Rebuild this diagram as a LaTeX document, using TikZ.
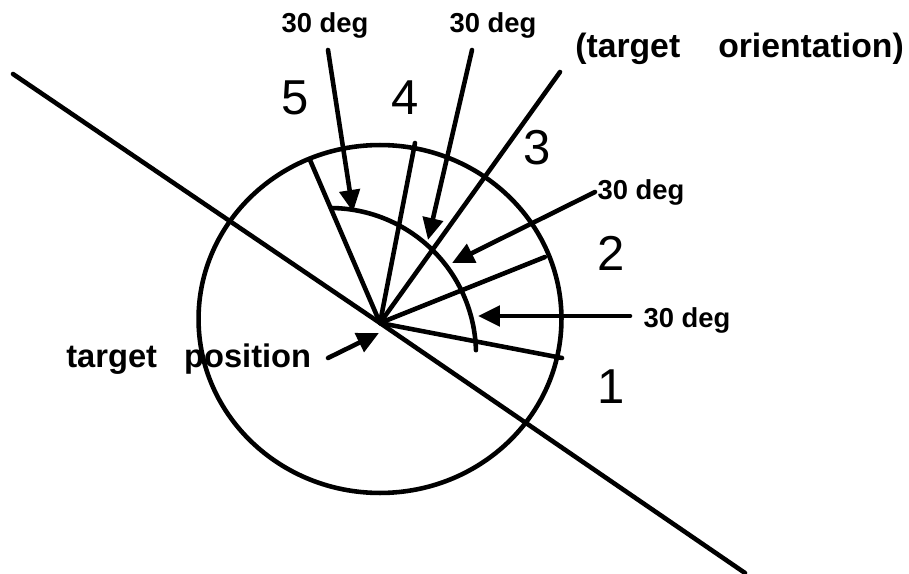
\documentclass[tikz,border=0pt]{standalone}
\usepackage{fontspec}
\setmainfont{Liberation Sans}
\usetikzlibrary{arrows.meta}
\begin{document}
\begin{tikzpicture}[x=0.02cm,y=-0.02cm, line width=2.6pt, line cap=round,
  deglabel/.style={font=\bfseries\fontsize{15.6}{18}\selectfont, inner sep=0pt, anchor=base},
  biglabel/.style={font=\bfseries\fontsize{19.2}{22}\selectfont, inner sep=0pt, anchor=base west},
  numlabel/.style={font=\fontsize{27.9}{32}\selectfont, inner sep=0pt, anchor=base},
  pointer/.style={-{Triangle[length=12.5pt,width=11.5pt]}}]
\useasboundingbox (0,0) rectangle (909,574);
% centre and end points
\coordinate (C) at (380,323);
\coordinate (L1) at (13,74);
\coordinate (L2) at (745,573);
\coordinate (e1) at (562,358);
\coordinate (e2) at (545,257);
\coordinate (e3) at (560,72);
\coordinate (e4) at (415,143);
\coordinate (e5) at (310,160);
% circle
\draw (380,319) ellipse [x radius=3.63cm, y radius=3.48cm];
% long line
\draw (L1) -- (C) -- (L2);
% radial lines
\draw (C) -- (e1);
\draw (C) -- (e2);
\draw (C) -- (e3);
\draw (C) -- (e4);
\draw (C) -- (e5);
% 30 deg arc
\draw plot[domain=1.5:89, samples=60] ({330+146*cos(\x)},{354-146*sin(\x)});
% labels
\node[deglabel] (d1) at (325,33) {30 deg};
\node[deglabel] (d2) at (493,33) {30 deg};
\node[deglabel] (d3) at (641,200) {30 deg};
\node[deglabel] (d4) at (687,327) {30 deg};
\node[biglabel] (orient) at (573,58) {(target\hspace{0.85em} orientation)};
\node[biglabel, font=\bfseries\fontsize{18.6}{22}\selectfont] (pos) at (64,367) {target\hspace{0.55em} position};
\node[numlabel] (n5) at (295,115) {5};
\node[numlabel] (n4) at (405,115) {4};
\node[numlabel] (n3) at (537,165) {3};
\node[numlabel] (n2) at (611,270) {2};
\node[numlabel] (n1) at (611,403) {1};
% pointer arrows
\coordinate (t1) at (328,50);  \coordinate (h1) at (353,212);
\coordinate (t2) at (472,50);  \coordinate (h2) at (428,240);
\coordinate (t3) at (595,192); \coordinate (h3) at (452,263);
\coordinate (t4) at (630,316); \coordinate (h4) at (478,316);
\coordinate (t5) at (328,358); \coordinate (h5) at (379,333);
\draw[pointer] (t1) -- (h1);
\draw[pointer] (t2) -- (h2);
\draw[pointer] (t3) -- (h3);
\draw[pointer] (t4) -- (h4);
\draw[pointer] (t5) -- (h5);
\end{tikzpicture}
\end{document}
